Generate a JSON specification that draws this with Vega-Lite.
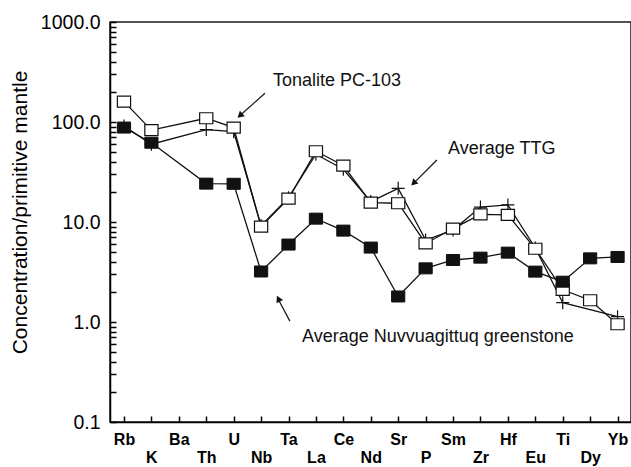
{
  "$schema": "https://vega.github.io/schema/vega-lite/v6.json",
  "autosize": "none",
  "width": 521,
  "height": 400,
  "padding": {"left": 110, "top": 22, "right": 0, "bottom": 45},
  "background": "white",
  "config": {
    "view": {"stroke": "#1a1a1a", "strokeWidth": 1.5},
    "font": "Liberation Sans",
    "axis": {"grid": false, "domain": true, "domainColor": "#000", "domainWidth": 1.5, "ticks": true, "labelColor": "#000", "titleColor": "#000", "labelFont": "Liberation Sans", "titleFont": "Liberation Sans"}
  },
  "datasets": {
    "pts": [
      {"el": "Rb", "x": 0, "series": "Tonalite PC-103", "y": 160},
      {"el": "K", "x": 1, "series": "Tonalite PC-103", "y": 83},
      {"el": "Th", "x": 3, "series": "Tonalite PC-103", "y": 109},
      {"el": "U", "x": 4, "series": "Tonalite PC-103", "y": 88},
      {"el": "Nb", "x": 5, "series": "Tonalite PC-103", "y": 9.0},
      {"el": "Ta", "x": 6, "series": "Tonalite PC-103", "y": 17.1},
      {"el": "La", "x": 7, "series": "Tonalite PC-103", "y": 51},
      {"el": "Ce", "x": 8, "series": "Tonalite PC-103", "y": 36.7},
      {"el": "Nd", "x": 9, "series": "Tonalite PC-103", "y": 15.6},
      {"el": "Sr", "x": 10, "series": "Tonalite PC-103", "y": 15.4},
      {"el": "P", "x": 11, "series": "Tonalite PC-103", "y": 6.1},
      {"el": "Sm", "x": 12, "series": "Tonalite PC-103", "y": 8.6},
      {"el": "Zr", "x": 13, "series": "Tonalite PC-103", "y": 11.9},
      {"el": "Hf", "x": 14, "series": "Tonalite PC-103", "y": 11.8},
      {"el": "Eu", "x": 15, "series": "Tonalite PC-103", "y": 5.4},
      {"el": "Ti", "x": 16, "series": "Tonalite PC-103", "y": 2.1},
      {"el": "Dy", "x": 17, "series": "Tonalite PC-103", "y": 1.65},
      {"el": "Yb", "x": 18, "series": "Tonalite PC-103", "y": 0.95},
      {"el": "Rb", "x": 0, "series": "Average TTG", "y": 91},
      {"el": "K", "x": 1, "series": "Average TTG", "y": 60},
      {"el": "Th", "x": 3, "series": "Average TTG", "y": 84},
      {"el": "U", "x": 4, "series": "Average TTG", "y": 80},
      {"el": "Nb", "x": 5, "series": "Average TTG", "y": 9.2},
      {"el": "Ta", "x": 6, "series": "Average TTG", "y": 17.5},
      {"el": "La", "x": 7, "series": "Average TTG", "y": 47.6},
      {"el": "Ce", "x": 8, "series": "Average TTG", "y": 33.7},
      {"el": "Nd", "x": 9, "series": "Average TTG", "y": 16},
      {"el": "Sr", "x": 10, "series": "Average TTG", "y": 21.7},
      {"el": "P", "x": 11, "series": "Average TTG", "y": 6.6},
      {"el": "Sm", "x": 12, "series": "Average TTG", "y": 8.3},
      {"el": "Zr", "x": 13, "series": "Average TTG", "y": 14.1},
      {"el": "Hf", "x": 14, "series": "Average TTG", "y": 14.8},
      {"el": "Eu", "x": 15, "series": "Average TTG", "y": 5.5},
      {"el": "Ti", "x": 16, "series": "Average TTG", "y": 1.56},
      {"el": "Yb", "x": 18, "series": "Average TTG", "y": 1.13},
      {"el": "Rb", "x": 0, "series": "Average Nuvvuagittuq greenstone", "y": 88},
      {"el": "K", "x": 1, "series": "Average Nuvvuagittuq greenstone", "y": 62},
      {"el": "Th", "x": 3, "series": "Average Nuvvuagittuq greenstone", "y": 24.2},
      {"el": "U", "x": 4, "series": "Average Nuvvuagittuq greenstone", "y": 24.1},
      {"el": "Nb", "x": 5, "series": "Average Nuvvuagittuq greenstone", "y": 3.2},
      {"el": "Ta", "x": 6, "series": "Average Nuvvuagittuq greenstone", "y": 5.95},
      {"el": "La", "x": 7, "series": "Average Nuvvuagittuq greenstone", "y": 10.8},
      {"el": "Ce", "x": 8, "series": "Average Nuvvuagittuq greenstone", "y": 8.2},
      {"el": "Nd", "x": 9, "series": "Average Nuvvuagittuq greenstone", "y": 5.55},
      {"el": "Sr", "x": 10, "series": "Average Nuvvuagittuq greenstone", "y": 1.8},
      {"el": "P", "x": 11, "series": "Average Nuvvuagittuq greenstone", "y": 3.44},
      {"el": "Sm", "x": 12, "series": "Average Nuvvuagittuq greenstone", "y": 4.17},
      {"el": "Zr", "x": 13, "series": "Average Nuvvuagittuq greenstone", "y": 4.4},
      {"el": "Hf", "x": 14, "series": "Average Nuvvuagittuq greenstone", "y": 4.94},
      {"el": "Eu", "x": 15, "series": "Average Nuvvuagittuq greenstone", "y": 3.19},
      {"el": "Ti", "x": 16, "series": "Average Nuvvuagittuq greenstone", "y": 2.53},
      {"el": "Dy", "x": 17, "series": "Average Nuvvuagittuq greenstone", "y": 4.33},
      {"el": "Yb", "x": 18, "series": "Average Nuvvuagittuq greenstone", "y": 4.47}
    ],
    "notes": [
      {"label": "Tonalite PC-103", "x": 5.43, "y": 255},
      {"label": "Average TTG", "x": 11.82, "y": 53.3},
      {"label": "Average Nuvvuagittuq greenstone", "x": 6.49, "y": 0.703}
    ],
    "arrows": [
      {"x": 5.14, "y": 193.8, "x2": 4.2, "y2": 114, "hx": 4.23, "hy": 115.9, "ang": 228},
      {"x": 11.41, "y": 41.7, "x2": 10.55, "y2": 24.2, "hx": 10.56, "hy": 24.4, "ang": 225},
      {"x": 6.05, "y": 1.02, "x2": 5.62, "y2": 1.7, "hx": 5.63, "hy": 1.71, "ang": 333}
    ]
  },
  "encoding": {
    "x": {
      "field": "x", "type": "quantitative",
      "scale": {"domain": [-0.51, 18.49], "nice": false, "zero": false},
      "axis": {
        "title": null,
        "values": [0,1,2,3,4,5,6,7,8,9,10,11,12,13,14,15,16,17,18],
        "labelExpr": "['Rb','K','Ba','Th','U','Nb','Ta','La','Ce','Nd','Sr','P','Sm','Zr','Hf','Eu','Ti','Dy','Yb'][datum.value]",
        "ticks": true,
        "tickSize": -6,
        "tickWidth": 1.5,
        "tickColor": "#000",
        "labelFontSize": 16,
        "labelFontWeight": "bold",
        "labelOverlap": false,
        "labelFlush": false,
        "labelBaseline": "top",
        "labelPadding": {"condition": {"test": "datum.value % 2 == 1", "value": 33.5}, "value": 15}
      }
    },
    "y": {
      "field": "y", "type": "quantitative",
      "scale": {"type": "log", "domain": [0.1, 1000], "nice": false},
      "axis": {
        "title": "Concentration/primitive mantle",
        "titleFontSize": 21,
        "titleFontWeight": "normal",
        "titleX": -90,
        "titleY": 190,
        "titleAngle": -90,
        "titleAlign": "center",
        "titleBaseline": "middle",
        "values": [0.1,0.2,0.3,0.4,0.5,0.6,0.7,0.8,0.9,1,2,3,4,5,6,7,8,9,10,20,30,40,50,60,70,80,90,100,200,300,400,500,600,700,800,900,1000],
        "labelExpr": "abs(log(datum.value)/LN10 - round(log(datum.value)/LN10)) < 0.000001 ? format(datum.value, '.1f') : ''",
        "ticks": true,
        "tickSize": -6,
        "tickWidth": 1.5,
        "tickColor": "#000",
        "labelFontSize": 19.5,
        "labelPadding": 16,
        "labelOverlap": false,
        "labelFlush": false
      }
    }
  },
  "layer": [
    {
      "data": {"name": "pts"},
      "mark": {"type": "line", "color": "#111", "strokeWidth": 1.3},
      "encoding": {"detail": {"field": "series"}, "order": {"field": "x"}}
    },
    {
      "data": {"name": "pts"},
      "transform": [{"filter": "datum.series == 'Average TTG'"}],
      "mark": {"type": "point", "shape": "M-1,0H1M0,-1V1", "size": 169, "filled": false, "stroke": "#111", "strokeWidth": 1.2, "opacity": 1}
    },
    {
      "data": {"name": "pts"},
      "transform": [{"filter": "datum.series == 'Tonalite PC-103'"}],
      "mark": {"type": "point", "shape": "M-1.2,-1H1.2V1H-1.2Z", "size": 121, "filled": true, "fill": "white", "stroke": "#111", "strokeWidth": 1.2, "opacity": 1}
    },
    {
      "data": {"name": "pts"},
      "transform": [{"filter": "datum.series == 'Average Nuvvuagittuq greenstone'"}],
      "mark": {"type": "point", "shape": "M-1.2,-1H1.2V1H-1.2Z", "size": 121, "filled": true, "fill": "#111", "stroke": "#111", "strokeWidth": 1, "opacity": 1}
    },
    {
      "data": {"name": "arrows"},
      "mark": {"type": "rule", "color": "#111", "strokeWidth": 1.2},
      "encoding": {"x2": {"field": "x2"}, "y2": {"field": "y2"}}
    },
    {
      "data": {"name": "arrows"},
      "mark": {"type": "point", "shape": "triangle-up", "size": 55, "filled": true, "color": "#111", "opacity": 1},
      "encoding": {
        "x": {"field": "hx", "type": "quantitative"},
        "y": {"field": "hy", "type": "quantitative"},
        "angle": {"field": "ang", "type": "quantitative", "scale": null}
      }
    },
    {
      "data": {"name": "notes"},
      "mark": {"type": "text", "align": "left", "baseline": "middle", "fontSize": 18, "font": "Liberation Sans", "color": "#111"},
      "encoding": {"text": {"field": "label"}}
    }
  ]
}
